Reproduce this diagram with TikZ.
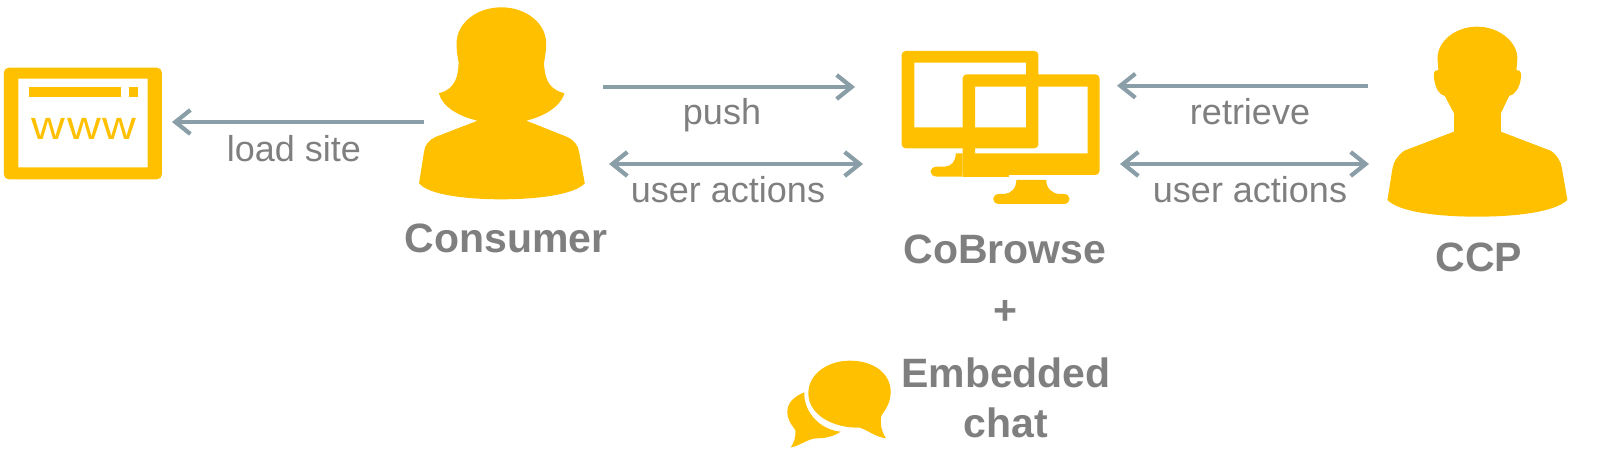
\documentclass[tikz,border=0pt]{standalone}
\usepackage{fontspec}
\setmainfont{Liberation Sans}
\usetikzlibrary{arrows.meta}
\definecolor{goldc}{HTML}{FFC000}
\definecolor{greyc}{HTML}{7F7F7F}
\definecolor{arrowc}{HTML}{8A9EA8}
\tikzset{
  x=1pt,y=-1pt,
  icon/.style={fill=goldc,draw=none},
  flow/.style={draw=arrowc,line width=4.2pt,-{Straight Barb[length=15pt,width=24pt,line width=4.2pt]}},
  flowboth/.style={draw=arrowc,line width=4.2pt,{Straight Barb[length=15pt,width=24pt,line width=4.2pt]}-{Straight Barb[length=15pt,width=24pt,line width=4.2pt]}},
  lbl/.style={text=greyc,font=\fontsize{36}{36}\selectfont,anchor=base,inner sep=0pt},
  title/.style={text=greyc,font=\fontsize{41}{41}\selectfont\bfseries,anchor=base,inner sep=0pt},
  zoomA/.style={xscale=0.3827,yscale=0.3333},
  zoomB/.style={shift={(880,20)},xscale=0.4592,yscale=0.3333},
  zoomC/.style={shift={(770,340)},xscale=0.3333,yscale=0.3333},
}
\begin{document}
\begin{tikzpicture}
\useasboundingbox (0,0) rectangle (1600,463);

% www window
\begin{scope}[zoomA]
\fill[icon,even odd rule,rounded corners=5pt] (10,203) rectangle (423,538) (48,236) [sharp corners] rectangle (386,502);
\fill[icon] (75,262) rectangle (315,290);
\fill[icon] (338,262) rectangle (360,290);
\end{scope}
\node[text=goldc,font=\fontsize{40}{40}\selectfont,anchor=base,inner sep=0pt,xscale=1.17] (wwwtext) at (84,139) {w\kern1.5pt w\kern1.5pt w};

% consumer
\begin{scope}[zoomA]
\fill[icon] (1310,22) .. controls (1375,22) and (1427,70) .. (1427,130)
 .. controls (1427,170) and (1420,180) .. (1422,200)
 .. controls (1425,245) and (1440,270) .. (1475,280)
 .. controls (1465,320) and (1420,350) .. (1375,362)
 -- (1480,410) .. controls (1500,420) and (1510,435) .. (1513,455)
 -- (1528,550) .. controls (1500,585) and (1400,598) .. (1310,598)
 .. controls (1220,598) and (1120,585) .. (1095,550)
 -- (1108,455) .. controls (1110,435) and (1120,420) .. (1140,410)
 -- (1248,362) .. controls (1200,350) and (1155,320) .. (1147,280)
 .. controls (1180,270) and (1195,245) .. (1198,200)
 .. controls (1200,180) and (1193,170) .. (1193,130)
 .. controls (1193,70) and (1245,22) .. (1310,22) -- cycle;
\end{scope}

% monitors
\begin{scope}[zoomB]
\fill[icon] (165,400) -- (180,400) -- (180,470) -- (125,470) .. controls (105,470) and (105,440) .. (125,440) -- (140,440) .. controls (155,440) and (165,425) .. (165,400) -- cycle;
\fill[icon] (180,440) rectangle (280,470);
\fill[icon,even odd rule,rounded corners=4pt] (47,93) rectangle (345,385) (75,128) [sharp corners] rectangle (318,322);
\fill[icon,even odd rule,rounded corners=4pt] (180,163) rectangle (478,465) (207,200) [sharp corners] rectangle (452,400);
\fill[icon] (297,480) -- (362,480) .. controls (362,505) and (375,522) .. (392,522) -- (400,522) .. controls (417,522) and (417,552) .. (400,552) -- (260,552) .. controls (242,552) and (242,522) .. (260,522) -- (270,522) .. controls (285,522) and (297,505) .. (297,480) -- cycle;
\end{scope}

% ccp
\begin{scope}[zoomB]
\fill[icon] (1300,20) .. controls (1348,20) and (1388,65) .. (1388,115)
 -- (1386,150) .. controls (1398,150) and (1397,165) .. (1395,180)
 .. controls (1392,205) and (1382,225) .. (1370,228)
 -- (1352,280) -- (1352,335)
 -- (1460,392) .. controls (1475,405) and (1483,425) .. (1485,445)
 -- (1497,540) .. controls (1470,575) and (1390,590) .. (1300,590)
 .. controls (1210,590) and (1130,575) .. (1105,540)
 -- (1116,445) .. controls (1118,425) and (1128,405) .. (1142,392)
 -- (1250,335) -- (1250,280) -- (1230,228)
 .. controls (1218,225) and (1210,205) .. (1207,180)
 .. controls (1205,165) and (1204,150) .. (1216,150)
 -- (1214,115) .. controls (1214,65) and (1252,20) .. (1300,20) -- cycle;
\end{scope}

% chat
\begin{scope}[zoomC]
\fill[icon] (115,160) .. controls (115,100) and (175,62) .. (240,62)
 .. controls (310,62) and (362,100) .. (362,155)
 .. controls (362,185) and (350,205) .. (335,225)
 .. controls (328,250) and (335,275) .. (348,295)
 .. controls (320,292) and (295,272) .. (270,263)
 .. controls (190,265) and (115,225) .. (115,160) -- cycle;
\fill[icon] (103,157) .. controls (70,170) and (52,190) .. (52,215)
 .. controls (52,240) and (65,255) .. (76,270)
 .. controls (78,290) and (72,310) .. (62,322)
 .. controls (85,320) and (115,295) .. (140,295)
 .. controls (165,295) and (190,290) .. (212,275)
 .. controls (150,270) and (100,215) .. (103,157) -- cycle;
\end{scope}

% named connector ends
\coordinate (wwwR) at (172,122);
\coordinate (conL) at (424,122);
\coordinate (conR1) at (603,87);
\coordinate (cobL1) at (855,87);
\coordinate (conR2) at (609,164);
\coordinate (cobL2) at (863,164);
\coordinate (cobR1) at (1117,85.7);
\coordinate (ccpL1) at (1368,85.7);
\coordinate (cobR2) at (1120,164);
\coordinate (ccpL2) at (1369,164);

\draw[flow] (conL) -- (wwwR);
\draw[flow] (conR1) -- (cobL1);
\draw[flowboth] (conR2) -- (cobL2);
\draw[flow] (ccpL1) -- (cobR1);
\draw[flowboth] (cobR2) -- (ccpL2);

% labels
\node[lbl] (lload) at (294,161) {load site};
\node[lbl] (lpush) at (722,124) {push};
\node[lbl] (lua1) at (728,202) {user actions};
\node[lbl] (lret) at (1250,124) {retrieve};
\node[lbl] (lua2) at (1250,202) {user actions};

\node[title] (tcon) at (506,252) {Consumer};
\node[title] (tcob) at (1005,263) {CoBrowse};
\node[title] (tccp) at (1479,271) {CCP};
\node[title] (tplus) at (1005,324) {+};
\node[title] (temb) at (1006,387) {Embedded};
\node[title] (tchat) at (1006,437) {chat};
\end{tikzpicture}
\end{document}
